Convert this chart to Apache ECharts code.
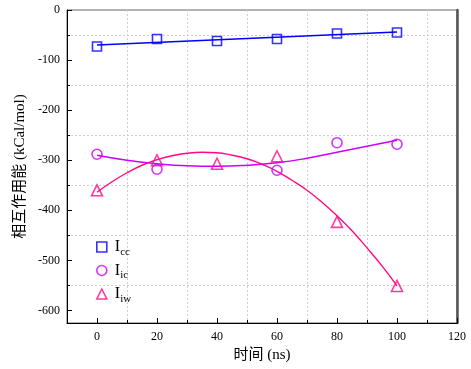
<!DOCTYPE html>
<html>
<head>
<meta charset="utf-8">
<script src="https://cdn.jsdelivr.net/npm/echarts@6/dist/echarts.min.js"></script>
<style>
  html, body { margin: 0; padding: 0; background: #fff; }
  #main { width: 471px; height: 369px; }
</style>
</head>
<body>
<div id="main"></div>
<script>
  // measured points (no Iic marker is visible at 40 ns)
  var timeNs = [0, 20, 40, 60, 80, 100];
  var iccValues = [-73, -58, -62, -58, -47, -45];
  var icValues = [-288, -318, null, -320, -265, -268];
  var iwValues = [-360, -300, -307, -292, -423, -551];

  // fit curves
  var iccFitX = [0, 100];
  var iccFit = [-70, -44];
  var icFitX = [0, 10, 20, 30, 40, 50, 60, 70, 80, 90, 100];
  var icFit = [-290, -300, -307, -311, -312, -310, -305, -296, -284, -272, -260];
  var iwFitX = [0, 5, 10, 15, 20, 25, 30, 35, 40, 45, 50, 55, 60, 65, 70, 75, 80, 85, 90, 95, 100];
  var iwFit = [-364, -343, -325, -310, -299, -291, -286, -284, -285, -290, -297,
               -308, -322, -340, -360, -384, -411, -441, -475, -511, -551];

  var serif = "'Liberation Serif', 'Noto Sans CJK SC', serif";
  var blue = '#0000ff', purple = '#cc00ff', pink = '#ff0a84';

  function pairs(xs, ys) {
    return xs.map(function (x, i) { return [x, ys[i]]; }).filter(function (p) { return p[1] !== null; });
  }

  function pointSeries(name, symbol, size, color, values) {
    return {
      name: name,
      type: 'scatter',
      symbol: symbol,
      symbolSize: size,
      itemStyle: {color: 'rgba(255,255,255,0)', borderColor: color, borderWidth: 1.6},
      data: pairs(timeNs, values),
      z: 3
    };
  }

  function fitSeries(xs, ys, color) {
    return {
      type: 'line',
      smooth: true,
      showSymbol: false,
      symbol: 'none',
      lineStyle: {color: color, width: 1.4},
      data: pairs(xs, ys),
      silent: true,
      z: 2
    };
  }

  var chart = echarts.init(document.getElementById('main'));
  var option = {
    animation: false,
    grid: {left: 67, right: 14, top: 10, bottom: 46, show: true, borderColor: '#666', borderWidth: 1},
    legend: {
      orient: 'vertical',
      left: 91,
      top: 234,
      itemWidth: 10,
      itemHeight: 10,
      itemGap: 5,
      formatter: function (name) { return 'I{s|' + name.slice(1) + '}'; },
      textStyle: {
        fontFamily: serif, fontSize: 16, color: '#000', padding: [0, 0, 0, 3],
        rich: {s: {fontFamily: serif, fontSize: 11, verticalAlign: 'bottom', padding: [10, 0, 0, 0], color: '#000'}}
      },
      data: [
        {name: 'Icc', icon: 'rect', itemStyle: {color: 'rgba(255,255,255,0)', borderColor: blue, borderWidth: 1.6}},
        {name: 'Iic', icon: 'circle', itemStyle: {color: 'rgba(255,255,255,0)', borderColor: purple, borderWidth: 1.6}},
        {name: 'Iiw', icon: 'triangle', itemStyle: {color: 'rgba(255,255,255,0)', borderColor: pink, borderWidth: 1.6}}
      ]
    },
    xAxis: {
      type: 'value',
      min: -10,
      max: 120,
      splitNumber: 6,
      name: '时间 (ns)',
      nameLocation: 'middle',
      nameGap: 25,
      nameTextStyle: {fontFamily: serif, fontSize: 15, color: '#000'},
      axisLine: {onZero: false, lineStyle: {color: '#000', width: 1}},
      axisTick: {inside: true, length: 5, lineStyle: {color: '#000'}},
      minorTick: {show: true, splitNumber: 2, length: 3, lineStyle: {color: '#000'}},
      axisLabel: {fontFamily: serif, fontSize: 12, color: '#000', margin: 8, showMinLabel: false},
      splitLine: {show: false},
      minorSplitLine: {show: true, lineStyle: {color: '#cfcfcf', type: [2, 2], width: 1}}
    },
    yAxis: [{
      type: 'value',
      min: -625,
      max: 0,
      splitNumber: 6,
      name: '相互作用能 (kCal/mol)',
      nameLocation: 'middle',
      nameGap: 37,
      nameTextStyle: {fontFamily: serif, fontSize: 15, color: '#000'},
      axisLine: {show: true, onZero: false, lineStyle: {color: '#000', width: 1}},
      axisTick: {show: true, inside: true, length: 5, lineStyle: {color: '#000'}},
      minorTick: {show: true, splitNumber: 2, length: 3, lineStyle: {color: '#000'}},
      axisLabel: {fontFamily: serif, fontSize: 12, color: '#000', margin: 7, showMinLabel: false},
      splitLine: {show: false},
      minorSplitLine: {show: true, lineStyle: {color: '#cfcfcf', type: [2, 2], width: 1}}
    }, {
      type: 'value',
      position: 'right',
      min: -625,
      max: 0,
      axisLine: {show: true, onZero: false, lineStyle: {color: '#555', width: 2.5}},
      axisTick: {show: false},
      axisLabel: {show: false},
      splitLine: {show: false}
    }],
    series: [
      fitSeries(iccFitX, iccFit, blue),
      fitSeries(icFitX, icFit, purple),
      fitSeries(iwFitX, iwFit, pink),
      pointSeries('Icc', 'rect', 9, blue, iccValues),
      pointSeries('Iic', 'circle', 10, purple, icValues),
      pointSeries('Iiw', 'triangle', 11, pink, iwValues)
    ]
  };
  chart.setOption(option);
</script>
</body>
</html>
